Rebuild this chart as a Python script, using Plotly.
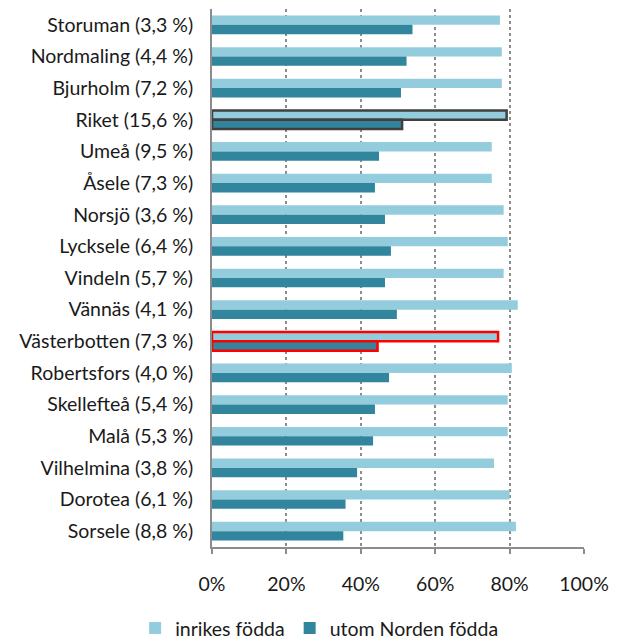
import plotly.graph_objects as go

categories = ["Storuman (3,3 %)", "Nordmaling (4,4 %)", "Bjurholm (7,2 %)", "Riket (15,6 %)",
              "Umeå (9,5 %)", "Åsele (7,3 %)", "Norsjö (3,6 %)", "Lycksele (6,4 %)",
              "Vindeln (5,7 %)", "Vännäs (4,1 %)", "Västerbotten (7,3 %)", "Robertsfors (4,0 %)",
              "Skellefteå (5,4 %)", "Malå (5,3 %)", "Vilhelmina (3,8 %)", "Dorotea (6,1 %)",
              "Sorsele (8,8 %)"]
inrikes = [77.4, 77.9, 77.9, 79.2, 75.2, 75.2, 78.4, 79.5, 78.4, 82.2, 76.9, 80.6,
           79.5, 79.5, 75.8, 80.0, 81.7]
utom_norden = [53.9, 52.3, 50.8, 51.1, 44.9, 43.8, 46.5, 48.1, 46.5, 49.7, 44.5, 47.6,
               43.8, 43.3, 39.0, 35.9, 35.3]
series_names = ["inrikes födda", "utom Norden födda"]
tick_vals = [0, 20, 40, 60, 80, 100]
tick_text = ["0%", "20%", "40%", "60%", "80%", "100%"]

highlight = {"Riket (15,6 %)": "#404040", "Västerbotten (7,3 %)": "#FF0000"}
line_colors = [highlight.get(c, "rgba(0,0,0,0)") for c in categories]
line_widths = [2.5 if c in highlight else 0 for c in categories]

FONT = "Lato"
fig = go.Figure()
for name, vals, col in [(series_names[0], inrikes, "#93CDDD"),
                        (series_names[1], utom_norden, "#31859C")]:
    fig.add_trace(go.Bar(
        y=categories, x=vals, name=name, orientation="h",
        marker=dict(color=col, line=dict(color=line_colors, width=line_widths)),
    ))

fig.update_layout(
    width=619, height=641,
    margin=dict(l=204, r=43, t=1, b=96),
    barmode="group", bargap=0.41, bargroupgap=0,
    plot_bgcolor="white", paper_bgcolor="white",
    font=dict(family=FONT, size=19.5, color="#1a1a1a"),
    showlegend=True,
    legend=dict(orientation="h", x=0.288, xanchor="center", y=-0.115, yanchor="top",
                font=dict(size=19.5), traceorder="normal"),
    xaxis=dict(range=[0, 100], tickvals=tick_vals, ticktext=tick_text,
               showgrid=True, gridcolor="#8C8C8C", griddash="dot", gridwidth=1.5,
               showline=True, linecolor="#8C8C8C", linewidth=1.5,
               ticks="outside", ticklen=5, tickcolor="#8C8C8C", tickwidth=1.5,
               zeroline=False, ticklabelstandoff=14, fixedrange=True),
    yaxis=dict(autorange="reversed", showline=True, linecolor="#8C8C8C", linewidth=2,
               ticks="", showgrid=False, ticklabelstandoff=13, fixedrange=True),
)
fig.write_html("out.html")
